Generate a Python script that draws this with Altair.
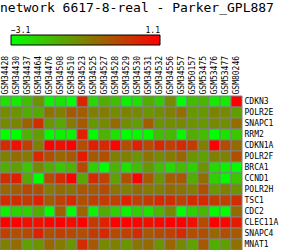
import altair as alt
import pandas as pd

title_text = "network 6617-8-real - Parker_GPL887"

samples = ["GSM34428", "GSM34430", "GSM34437", "GSM34464", "GSM34476", "GSM34508",
           "GSM34510", "GSM34523", "GSM34525", "GSM34527", "GSM34528", "GSM34529",
           "GSM34530", "GSM34531", "GSM34532", "GSM34556", "GSM34557", "GSM50157",
           "GSM53475", "GSM53476", "GSM53477", "GSM80246"]

genes = ["CDKN3", "POLR2E", "SNAPC1", "RRM2", "CDKN1A", "POLR2F", "BRCA1",
         "CCND1", "POLR2H", "TSC1", "CDC2", "CLEC11A", "SNAPC4", "MNAT1"]

CDKN3 = [-2.60, -2.76, -2.05, -1.34, -2.89, -2.68, -3.10, 0.47, -2.47, -1.76, -2.05, -2.85, -2.60, -1.76, -2.26, -1.21, -3.10, -2.05, -1.92, -2.76, -2.76, 1.10]
POLR2E = [-1.21, -1.34, -1.76, -1.71, -0.79, -1.00, -0.37, -0.45, -1.00, -0.92, -1.21, -1.08, -1.17, -1.34, -1.25, -1.00, -0.71, -1.42, -1.42, -1.08, -1.17, -1.50]
SNAPC1 = [-1.17, -1.08, -0.50, 0.34, -1.42, -1.67, -0.92, -0.37, -1.42, -1.17, -0.66, -1.25, -1.50, -0.45, -1.34, -1.25, -1.17, -1.34, -1.42, -1.17, -1.25, -0.71]
RRM2 = [-3.10, -3.10, -1.84, -1.50, -3.02, -2.85, -2.89, 0.55, -3.02, -1.84, -2.60, -3.10, -2.97, -3.02, -2.05, -1.92, -2.93, -1.76, -2.01, -3.10, -2.60, -2.18]
CDKN1A = [0.39, 0.85, 0.05, -1.00, 1.10, 0.81, 1.10, -0.16, 0.60, 0.43, 1.02, -0.20, 0.55, -0.12, 0.43, 0.05, 0.43, 0.13, -1.00, 1.10, -0.12, -0.66]
POLR2F = [-1.00, -0.66, -0.92, 0.43, -0.20, -0.58, -0.37, 0.64, -0.37, -0.20, -1.00, -1.00, -1.34, -0.83, -1.17, -0.92, -0.58, -1.34, -1.55, -1.00, -1.08, -0.20]
BRCA1 = [-1.76, -1.50, -2.18, -1.17, -1.76, -2.18, -1.84, -0.12, -2.34, -3.10, -1.84, -2.60, -2.05, -1.42, -2.05, -2.47, -2.05, -2.34, -1.34, -2.47, -2.85, -3.02]
CCND1 = [0.34, 0.60, -1.67, -3.10, -0.12, 0.43, 1.10, -1.67, 0.43, 0.05, -1.55, -0.20, 1.10, -0.37, -1.34, -0.45, -0.37, -1.76, -0.71, -2.34, -3.02, -2.18]
POLR2H = [-0.58, -0.45, -0.12, -0.20, -0.92, -0.66, -0.79, -0.37, -0.37, -0.12, -0.83, -1.00, -0.66, -0.92, -1.00, -0.66, -0.79, -1.00, -0.20, -1.42, -1.00, -1.34]
TSC1 = [0.39, 0.34, 0.13, 0.55, -0.37, 0.05, 0.43, -0.20, 0.05, 0.13, 0.05, 0.55, 0.05, 0.13, 0.43, 0.34, 0.05, 0.43, 0.43, 0.13, 0.05, 0.34]
CDC2 = [-2.89, -2.34, -2.34, -1.76, -3.10, -0.50, -3.10, -0.58, -2.89, -1.71, -2.34, -2.89, -2.34, -2.60, -1.92, -1.17, -3.10, -2.34, -1.92, -3.02, -3.10, -0.66]
CLEC11A = [1.10, 1.10, 0.85, 0.81, 1.02, 1.10, 0.89, 1.10, 0.13, 0.55, 1.10, 1.10, 1.02, 0.81, 0.97, 1.10, 1.10, 0.81, -0.12, 1.10, 1.02, 0.64]
SNAPC4 = [0.05, -0.20, -0.12, 0.55, -0.20, 0.05, -0.12, -0.20, 0.13, 0.43, -0.12, 0.05, 0.39, -0.37, -0.12, 0.05, 0.43, -0.20, -0.20, -0.58, -0.20, -0.37]
MNAT1 = [-1.00, -0.66, -1.55, -1.34, -0.58, -0.92, -1.34, 0.39, -0.37, -1.17, -1.00, -1.34, -0.83, -0.66, -1.34, -0.58, -1.17, -1.55, -0.37, -1.76, -1.50, -0.75]

color_min = -3.1
color_max = 1.1

rows_values = [CDKN3, POLR2E, SNAPC1, RRM2, CDKN1A, POLR2F, BRCA1,
               CCND1, POLR2H, TSC1, CDC2, CLEC11A, SNAPC4, MNAT1]

records = []
for g, vals in zip(genes, rows_values):
    for s, v in zip(samples, vals):
        records.append({"gene": g, "sample": s, "value": v})
df = pd.DataFrame(records)

MONO = "DejaVu Sans Mono"

chart = alt.Chart(df).mark_rect(stroke="#808080", strokeWidth=1).encode(
    x=alt.X("sample:N", sort=samples, title=None,
            scale=alt.Scale(paddingInner=0, paddingOuter=0),
            axis=alt.Axis(orient="top", labelAngle=270, ticks=False, domain=False,
                          labelPadding=2, labelFont=MONO, labelFontSize=8,
                          labelColor="black")),
    y=alt.Y("gene:N", sort=genes, title=None,
            scale=alt.Scale(paddingInner=0, paddingOuter=0),
            axis=alt.Axis(orient="right", ticks=False, domain=False,
                          labelPadding=2, labelFont=MONO, labelFontSize=8,
                          labelColor="black")),
    color=alt.Color("value:Q",
                    scale=alt.Scale(domain=[color_min, color_max],
                                    range=["#00ff00", "#ff0000"],
                                    interpolate="rgb"),
                    legend=alt.Legend(orient="none", legendX=11, legendY=-61,
                                      direction="horizontal", title=None,
                                      gradientLength=149, gradientThickness=10,
                                      gradientStrokeColor="black",
                                      gradientStrokeWidth=1,
                                      values=[color_min, color_max], format=".1f",
                                      labelAlign="center",
                                      labelOffset={"expr": "-18"}, labelFont=MONO,
                                      labelFontSize=8, labelColor="black")),
).properties(
    width=242, height=154,
    title=alt.Title(title_text, anchor="start", font=MONO, fontSize=13,
                    fontWeight="normal", color="black", offset=10, frame="group",
                    baseline="alphabetic"),
    autosize=alt.AutoSizeParams(type="none"),
    padding={"left": 0, "top": 96, "right": 42, "bottom": 0},
).configure_view(stroke=None)

chart.save("out.html", embed_options={"renderer": "svg", "actions": False})
